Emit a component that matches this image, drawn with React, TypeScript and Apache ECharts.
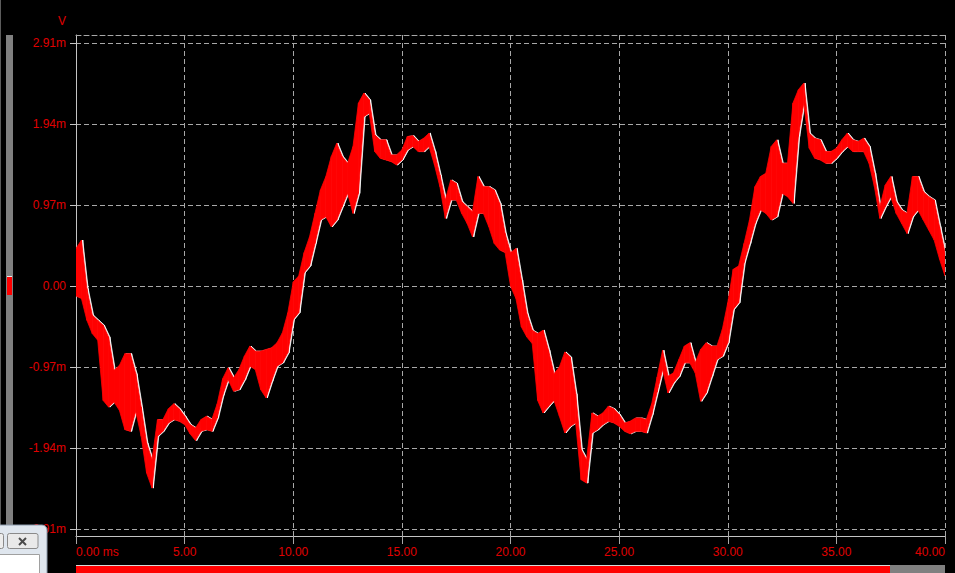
import React, { useEffect, useRef } from 'react';
import * as echarts from 'echarts';

// sample spacing of the envelope readings (ms)
const STEP_MS = 0.25;

// upper edge of the red trace band (mV), every 0.25 ms from 0 to 40 ms
const upper = [
  0.45, 0.55, -0.03, -0.35, -0.41, -0.47, -0.61, -1.01, -0.95, -0.81,
  -0.81, -1.05, -1.45, -1.88, -2.08, -1.6, -1.6, -1.47, -1.41, -1.47,
  -1.56, -1.66, -1.7, -1.6, -1.56, -1.6, -1.41, -1.11, -0.98, -1.1,
  -1.0, -0.84, -0.72, -0.78, -0.78, -0.76, -0.74, -0.68, -0.56, -0.32,
  0.05, 0.12, 0.4, 0.59, 0.87, 1.15, 1.31, 1.55, 1.71, 1.55,
  1.47, 1.67, 2.19, 2.31, 2.23, 1.81, 1.75, 1.75, 1.57, 1.57,
  1.63, 1.79, 1.8, 1.73, 1.77, 1.83, 1.61, 1.33, 1.03, 1.27,
  1.23, 1.01, 0.95, 0.89, 1.31, 1.19, 1.19, 1.15, 0.99, 0.63,
  0.4, 0.45, 0.07, -0.33, -0.53, -0.57, -0.53, -0.77, -1.05, -0.97,
  -0.79, -0.85, -1.29, -1.96, -2.08, -1.52, -1.56, -1.52, -1.44, -1.47,
  -1.54, -1.64, -1.62, -1.58, -1.58, -1.6, -1.41, -1.09, -0.77, -1.08,
  -1.04, -0.88, -0.72, -0.68, -0.92, -0.76, -0.68, -0.72, -0.72, -0.52,
  -0.2, 0.2, 0.24, 0.51, 0.79, 1.19, 1.31, 1.35, 1.67, 1.75,
  1.47, 1.47, 2.19, 2.35, 2.43, 1.83, 1.77, 1.75, 1.61, 1.61,
  1.65, 1.75, 1.83, 1.75, 1.73, 1.77, 1.67, 1.35, 0.95, 1.21,
  1.31, 1.01, 0.91, 0.87, 1.31, 1.31, 1.13, 1.07, 1.03, 0.71,
  0.4,
];

// lower edge of the red trace band (mV)
const lower = [
  -0.12, -0.15, -0.41, -0.57, -0.65, -1.37, -1.45, -1.39, -1.49, -1.72,
  -1.74, -1.5, -1.8, -2.24, -2.42, -1.8, -1.74, -1.64, -1.6, -1.62,
  -1.66, -1.77, -1.85, -1.74, -1.72, -1.74, -1.58, -1.31, -1.12, -1.26,
  -1.24, -1.12, -0.96, -1.0, -1.24, -1.34, -1.14, -0.96, -0.92, -0.8,
  -0.4, -0.32, 0.16, 0.24, 0.51, 0.79, 0.83, 0.71, 0.79, 0.95,
  1.11, 0.87, 1.11, 2.03, 2.07, 1.61, 1.53, 1.51, 1.49, 1.45,
  1.51, 1.63, 1.67, 1.61, 1.61, 1.67, 1.45, 1.19, 0.81, 1.03,
  1.03, 0.87, 0.75, 0.59, 0.87, 0.87, 0.71, 0.51, 0.43, 0.4,
  0.0, -0.15, -0.49, -0.61, -0.69, -1.37, -1.52, -1.44, -1.37, -1.56,
  -1.76, -1.68, -1.64, -2.32, -2.36, -1.76, -1.72, -1.66, -1.62, -1.64,
  -1.68, -1.74, -1.77, -1.74, -1.74, -1.76, -1.54, -1.27, -1.0, -1.28,
  -1.16, -1.08, -0.92, -0.92, -1.04, -1.38, -1.28, -1.08, -0.88, -0.84,
  -0.68, -0.28, -0.2, 0.28, 0.51, 0.75, 0.91, 0.87, 0.79, 0.83,
  1.11, 1.07, 0.99, 1.79, 2.19, 1.65, 1.53, 1.51, 1.47, 1.47,
  1.53, 1.61, 1.67, 1.61, 1.61, 1.61, 1.47, 1.19, 0.81, 0.95,
  1.07, 0.87, 0.75, 0.63, 0.83, 0.91, 0.79, 0.67, 0.55, 0.32,
  0.12,
];

// axis settings
const X_MIN = 0;
const X_MAX = 40;
const X_STEP = 5;
const Y_MIN = -2.91;
const Y_MAX = 2.91;
const Y_STEP = 0.97;
const Y_UNIT = 'V';

const RED_TEXT = '#e00000';
const FONT = 'Liberation Sans, Arial, sans-serif';

export default function App() {
  const ref = useRef<HTMLDivElement>(null);

  useEffect(() => {
    if (!ref.current) return;
    const chart = echarts.init(ref.current, null, { renderer: 'svg' });

    const times = upper.map((_, i) => i * STEP_MS);
    const bandData = times.slice(0, -1).map((t, i) => [
      t, lower[i], upper[i], times[i + 1], lower[i + 1], upper[i + 1],
    ]);

    const makeRender = (color: string) => (_params: any, api: any) => {
      const a = api.coord([api.value(0), api.value(2)]);
      const b = api.coord([api.value(3), api.value(5)]);
      const c = api.coord([api.value(3), api.value(4)]);
      const d = api.coord([api.value(0), api.value(1)]);
      return {
        type: 'polygon',
        shape: { points: [a, b, c, d] },
        style: { fill: color, stroke: color, lineWidth: 0.8 },
      };
    };

    const grayDash = { color: '#a8a8a8', width: 1, type: [5, 3] as any };

    const option: any = {
      animation: false,
      backgroundColor: '#000000',
      grid: [
        { left: 76, right: 10, top: 35, bottom: 37, containLabel: false },
        { left: 76, right: 10, top: 43, bottom: 44, containLabel: false },
      ],
      xAxis: [
        {
          gridIndex: 0,
          type: 'value',
          min: X_MIN,
          max: X_MAX,
          interval: X_STEP,
          axisLine: { show: true, onZero: false, lineStyle: { color: '#c4c4c4', width: 1 } },
          axisTick: { show: true, length: 8, lineStyle: { color: '#a8a8a8' } },
          axisLabel: {
            color: RED_TEXT,
            fontFamily: FONT,
            fontSize: 12,
            margin: 10,
            alignMinLabel: 'left',
            alignMaxLabel: 'right',
            formatter: (v: number) => (v === 0 ? '0.00 ms' : v.toFixed(2)),
          },
          splitLine: { show: true, lineStyle: grayDash },
        },
        { gridIndex: 1, type: 'value', min: X_MIN, max: X_MAX, show: false },
        { gridIndex: 1, type: 'value', min: X_MIN - 0.06, max: X_MAX - 0.06, show: false },
        {
          gridIndex: 0,
          type: 'value',
          position: 'top',
          min: X_MIN,
          max: X_MAX,
          axisLine: { show: true, onZero: false, lineStyle: grayDash },
          axisTick: { show: false },
          axisLabel: { show: false },
          splitLine: { show: false },
        },
      ],
      yAxis: [
        {
          gridIndex: 0,
          type: 'value',
          min: -3,
          max: 3,
          axisLine: { show: true, onZero: false, lineStyle: { color: '#c4c4c4', width: 1 } },
          axisTick: { show: false },
          axisLabel: { show: false },
          splitLine: { show: false },
        },
        {
          gridIndex: 1,
          type: 'value',
          min: Y_MIN,
          max: Y_MAX,
          interval: Y_STEP,
          axisLine: { show: false },
          axisTick: { show: true, length: 6, lineStyle: { color: '#c4c4c4' } },
          axisLabel: {
            color: RED_TEXT,
            fontFamily: FONT,
            fontSize: 12,
            margin: 10,
            formatter: (v: number) => (Math.abs(v) < 1e-6 ? '0.00' : v.toFixed(2) + 'm'),
          },
          splitLine: { show: true, lineStyle: grayDash },
        },
      ],
      series: [
        {
          type: 'custom',
          name: 'trace-white',
          xAxisIndex: 2,
          yAxisIndex: 1,
          clip: true,
          silent: true,
          renderItem: makeRender('#ffffff'),
          data: bandData,
          z: 2,
        },
        {
          type: 'custom',
          name: 'trace',
          xAxisIndex: 1,
          yAxisIndex: 1,
          clip: true,
          silent: true,
          renderItem: makeRender('#ff0000'),
          data: bandData,
          z: 3,
        },
      ],
      graphic: [
        { type: 'rect', shape: { x: 0, y: 0, width: 1, height: 573 }, style: { fill: '#5c5c5c' }, z: 50 },
        { type: 'rect', shape: { x: 6, y: 35, width: 7, height: 500 }, style: { fill: '#808080' }, z: 50 },
        { type: 'rect', shape: { x: 7, y: 277, width: 5, height: 18 }, style: { fill: '#ff0000' }, z: 51 },
        { type: 'rect', shape: { x: 7, y: 276, width: 5, height: 1 }, style: { fill: '#e8e8e8' }, z: 51 },
        {
          type: 'text',
          x: 58,
          y: 20.5,
          style: { text: Y_UNIT, fill: RED_TEXT, font: '12px ' + FONT, textVerticalAlign: 'middle' },
          z: 50,
        },
        // bottom scroll bar
        { type: 'rect', shape: { x: 76, y: 566, width: 814, height: 7 }, style: { fill: '#ff0000' }, z: 50 },
        { type: 'rect', shape: { x: 76, y: 565, width: 814, height: 1 }, style: { fill: '#d8d8d8' }, z: 50 },
        { type: 'rect', shape: { x: 890, y: 565, width: 55, height: 8 }, style: { fill: '#808080' }, z: 50 },
        // partially visible window at the bottom left
        {
          type: 'rect',
          shape: { x: -6, y: 525, width: 53, height: 60, r: [5, 5, 0, 0] },
          style: { fill: '#dfe6ee', stroke: '#8c9aab', lineWidth: 1 },
          z: 60,
        },
        {
          type: 'rect',
          shape: { x: -6, y: 533.5, width: 9.5, height: 15, r: 2 },
          style: { fill: '#ececec', stroke: '#8a8a8a', lineWidth: 1 },
          z: 61,
        },
        {
          type: 'rect',
          shape: { x: 7.5, y: 533.5, width: 30.5, height: 15, r: 2 },
          style: { fill: '#e9e9e9', stroke: '#8a8a8a', lineWidth: 1 },
          z: 61,
        },
        { type: 'line', shape: { x1: 19, y1: 538, x2: 26, y2: 545 }, style: { stroke: '#4a4a4a', lineWidth: 2 }, z: 62 },
        { type: 'line', shape: { x1: 26, y1: 538, x2: 19, y2: 545 }, style: { stroke: '#4a4a4a', lineWidth: 2 }, z: 62 },
        {
          type: 'rect',
          shape: { x: -2, y: 554.5, width: 41.5, height: 25 },
          style: { fill: '#ffffff', stroke: '#a0a0a0', lineWidth: 1 },
          z: 61,
        },
      ],
    };

    chart.setOption(option);
    return () => chart.dispose();
  }, []);

  return (
    <div
      ref={ref}
      style={{ position: 'fixed', left: 0, top: 0, width: 955, height: 573, background: '#000' }}
    />
  );
}
